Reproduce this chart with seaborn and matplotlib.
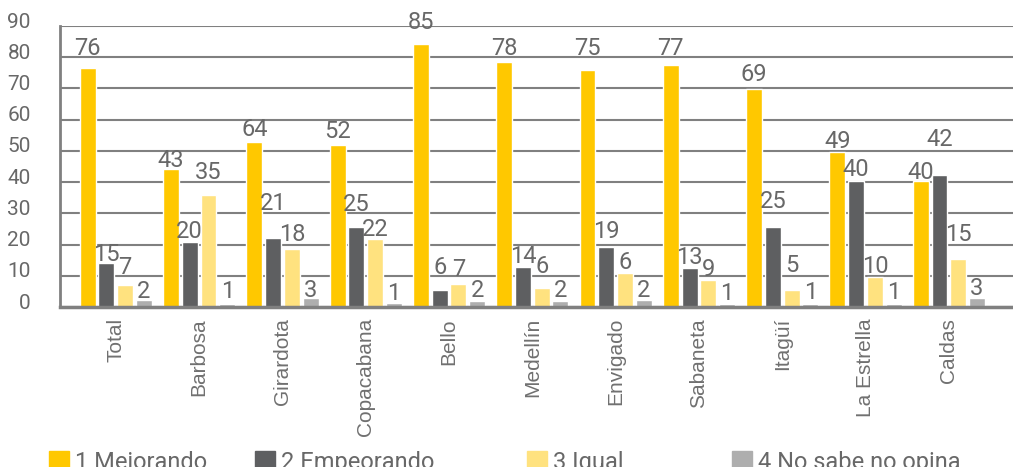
import matplotlib
matplotlib.use("Agg")
import matplotlib.pyplot as plt
import matplotlib.patches as mpatches
from matplotlib.transforms import ScaledTranslation
import pandas as pd
import seaborn as sns

# data
municipios = ['Total', 'Barbosa', 'Girardota', 'Copacabana', 'Bello', 'Medellín',
              'Envigado', 'Sabaneta', 'Itagüí', 'La Estrella', 'Caldas']
series = ['1 Mejorando', '2 Empeorando', '3 Igual', '4 No sabe no opina']

# bar heights as drawn
mejorando = [76.7, 44.3, 52.8, 51.8, 84.2, 78.5, 76.0, 77.6, 69.7, 49.6, 40.5]
empeorando = [14.0, 20.7, 22.2, 25.7, 5.6, 12.8, 19.1, 12.5, 25.7, 40.5, 42.4]
igual = [7.2, 35.8, 18.6, 21.9, 7.5, 6.0, 10.9, 8.7, 5.6, 9.6, 15.3]
no_sabe = [2.2, 0.9, 2.8, 1.2, 1.8, 1.8, 2.1, 0.85, 0.85, 0.85, 2.8]

# value labels as printed
lab_mejorando = [76, 43, 64, 52, 85, 78, 75, 77, 69, 49, 40]
lab_empeorando = [15, 20, 21, 25, 6, 14, 19, 13, 25, 40, 42]
lab_igual = [7, 35, 18, 22, 7, 6, 6, 9, 5, 10, 15]
lab_no_sabe = [2, 1, 3, 1, 2, 2, 2, 1, 1, 1, 3]

# gap (px) between bar top and label baseline, as placed in the original
gap_mejorando = [12.7, 1.7, 6, 7.7, 14.7, 7, 15, 10, 8.3, 4, 2]
gap_empeorando = [2, 4, 27.7, 15.7, 15.7, 4.3, 9.3, 3.7, 18.3, 4.7, 28.7]
gap_igual = [11, 16.7, 8.4, 2.7, 8, 15, 3.7, 4, 17.3, 4.3, 18.7]
gap_no_sabe = [2, 6, 1, 3.7, 4.3, 4.3, 3.3, 4, 5.7, 5.7, 3]

colores = ['#FFC800', '#5E5F61', '#FFE27F', '#AEAEAE']
gris_texto = '#686868'
gris_linea = '#808080'

df = pd.DataFrame({
    'municipio': municipios * 4,
    'serie': [s for s in series for _ in municipios],
    'valor': mejorando + empeorando + igual + no_sabe,
})
etiquetas = [lab_mejorando, lab_empeorando, lab_igual, lab_no_sabe]
gaps = [gap_mejorando, gap_empeorando, gap_igual, gap_no_sabe]

sns.set_style('white')
plt.rcParams['font.family'] = ['Roboto', 'DejaVu Sans']

fig = plt.figure(figsize=(10.13, 4.73), dpi=100)
ax = fig.add_axes([60 / 1013, 1 - 307 / 473, 1 - 60 / 1013, (307 - 26) / 473])

sns.barplot(data=df, x='municipio', y='valor', hue='serie', order=municipios,
            hue_order=series, palette=colores, width=0.9, gap=0.15,
            saturation=1, legend=False, ax=ax)

ax.set_xlim(-0.67, 10.77)
ax.set_ylim(0, 90)
ax.set_yticks(range(0, 91, 10))
ax.yaxis.grid(True, color=gris_linea, linewidth=1.5)
ax.set_axisbelow(True)
ax.set_xlabel('')
ax.set_ylabel('')

for lado in ['top', 'right']:
    ax.spines[lado].set_visible(False)
ax.spines['left'].set_color(gris_linea)
ax.spines['left'].set_linewidth(2)
ax.spines['bottom'].set_color(gris_linea)
ax.spines['bottom'].set_linewidth(2.5)

ax.tick_params(axis='y', direction='out', length=8, width=1.5, color=gris_linea,
               pad=13, labelsize=15, labelcolor=gris_texto)
ax.tick_params(axis='x', length=0, pad=8)
for lbl in ax.get_yticklabels():
    lbl.set_transform(lbl.get_transform() + ScaledTranslation(0, 0.06, fig.dpi_scale_trans))
ax.set_xticks(range(len(municipios)))
ax.set_xticklabels(municipios, rotation=90, va='top', ha='center',
                   family=['Liberation Sans', 'DejaVu Sans'], fontsize=15, color='#707070')

for cont, labs, gp in zip(ax.containers, etiquetas, gaps):
    textos = ax.bar_label(cont, labels=[str(v) for v in labs], fontsize=17,
                          color=gris_texto)
    for t, g in zip(textos, gp):
        t.set_va('baseline')
        t.xyann = (0, g * 0.72)
        t.set_clip_on(False)

# legend entries placed individually like the original
pos_x = [49, 255, 527, 732]
for serie, color, x in zip(series, colores, pos_x):
    fig.legend(handles=[mpatches.Patch(color=color, label=serie)],
               loc='upper left', bbox_to_anchor=(x / 1013, 1 - 451 / 473),
               frameon=False, fontsize=17, labelcolor=gris_texto,
               handlelength=0.85, handleheight=0.9, handletextpad=0.25,
               borderpad=0, borderaxespad=0)

# the original image is cut just under the legend
fig.patches.append(mpatches.Rectangle((0, 0), 1, 6 / 473, transform=fig.transFigure,
                                      facecolor='white', edgecolor='none', zorder=10))

fig.savefig('out.png', dpi=100)
